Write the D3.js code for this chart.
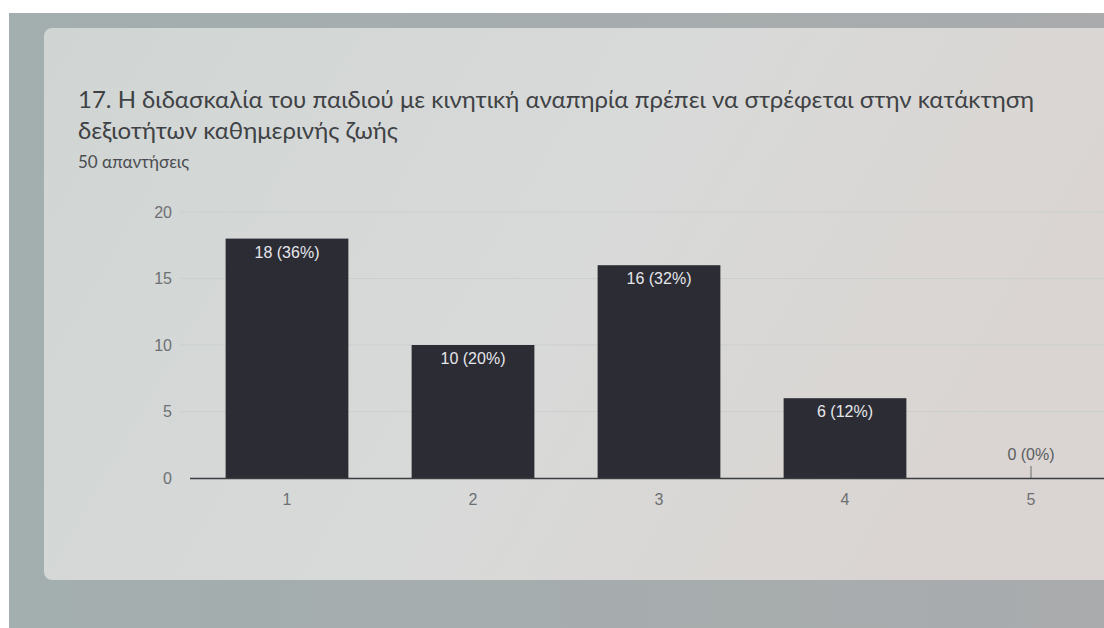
<!DOCTYPE html>
<html>
<head>
<meta charset="utf-8">
<script src="https://cdn.jsdelivr.net/npm/d3@7"></script>
<style>
  html, body { margin: 0; padding: 0; background: #ffffff; }
  svg { display: block; }
</style>
</head>
<body>
<script>
// Responses per scale point
const categories = ["1", "2", "3", "4", "5"];
const counts = [18, 10, 16, 6, 0];
const percents = ["36%", "20%", "32%", "12%", "0%"];
const yTicks = [0, 5, 10, 15, 20];

const titleLines = [
  "17. Η διδασκαλία του παιδιού με κινητική αναπηρία πρέπει να στρέφεται στην κατάκτηση",
  "δεξιοτήτων καθημερινής ζωής"
];
const subtitle = "50 απαντήσεις";

const W = 1104, H = 628;
const svg = d3.select("body").append("svg").attr("width", W).attr("height", H);
const defs = svg.append("defs");

const frameGrad = defs.append("linearGradient").attr("id", "frame").attr("x1", 0).attr("x2", 1).attr("y1", 0).attr("y2", 0);
frameGrad.append("stop").attr("offset", "0%").attr("stop-color", "#a3aeae");
frameGrad.append("stop").attr("offset", "100%").attr("stop-color", "#a9abad");

const cardGrad = defs.append("linearGradient").attr("id", "card").attr("x1", 0).attr("x2", 1).attr("y1", 0).attr("y2", 0.3);
cardGrad.append("stop").attr("offset", "0%").attr("stop-color", "#d0d5d4");
cardGrad.append("stop").attr("offset", "55%").attr("stop-color", "#d8dad9");
cardGrad.append("stop").attr("offset", "100%").attr("stop-color", "#dad5d2");

// screen frame and card
svg.append("rect").attr("x", 9).attr("y", 13).attr("width", W - 9).attr("height", H - 13).attr("fill", "url(#frame)");
svg.append("rect").attr("x", 44).attr("y", 28).attr("width", W - 44 + 10).attr("height", 552)
  .attr("rx", 8).attr("fill", "url(#card)");

// title
const title = svg.append("text")
  .attr("font-family", "Lato, 'Noto Sans', sans-serif").attr("font-size", 24)
  .attr("fill", "#3f4245");
titleLines.forEach((t, i) => {
  title.append("tspan").attr("x", 78).attr("y", 108 + i * 31).text(t);
});
svg.append("text").attr("x", 78).attr("y", 168)
  .attr("font-family", "Lato, 'Noto Sans', sans-serif").attr("font-size", 17)
  .attr("fill", "#4a4d50").text(subtitle);

// scales
const x = d3.scaleBand().domain(categories).range([194, 1124]).paddingInner(0.34).paddingOuter(0.17);
const y = d3.scaleLinear().domain([0, 20]).range([478, 212]);

// gridlines
svg.append("g").selectAll("line").data(yTicks.filter(d => d > 0)).join("line")
  .attr("x1", 180).attr("x2", W).attr("y1", d => y(d)).attr("y2", d => y(d))
  .attr("stroke", "#cbcfcf").attr("stroke-width", 1);

// y axis labels
const yAxis = svg.append("g").attr("transform", "translate(172,0)")
  .call(d3.axisLeft(y).tickValues(yTicks).tickSize(0).tickPadding(0));
yAxis.select(".domain").remove();
yAxis.selectAll("text").attr("font-family", "'Liberation Sans', Arial, sans-serif")
  .attr("font-size", 16).attr("fill", "#6d7073");

// bars
svg.append("g").selectAll("rect").data(counts).join("rect")
  .attr("x", (d, i) => x(categories[i]))
  .attr("y", d => y(d))
  .attr("width", x.bandwidth())
  .attr("height", d => y(0) - y(d))
  .attr("fill", "#2c2c35");

// value labels
svg.append("g").selectAll("text").data(counts).join("text")
  .attr("x", (d, i) => x(categories[i]) + x.bandwidth() / 2)
  .attr("y", d => d > 0 ? y(d) + 19 : y(d) - 18)
  .attr("text-anchor", "middle")
  .attr("font-family", "'Liberation Sans', Arial, sans-serif")
  .attr("font-size", 16)
  .attr("fill", d => d > 0 ? "#e6e7ea" : "#5a5d60")
  .text((d, i) => `${d} (${percents[i]})`);

// stub for the empty category
svg.append("g").selectAll("line").data(counts.map((d, i) => ({ d, i })).filter(o => o.d === 0)).join("line")
  .attr("x1", o => x(categories[o.i]) + x.bandwidth() / 2)
  .attr("x2", o => x(categories[o.i]) + x.bandwidth() / 2)
  .attr("y1", o => y(o.d) - 12).attr("y2", o => y(o.d))
  .attr("stroke", "#6a6d70").attr("stroke-width", 1);

// x axis
const xAxis = svg.append("g").attr("transform", `translate(0,${y(0)})`)
  .call(d3.axisBottom(x).tickSize(0).tickPadding(16));
xAxis.select(".domain").attr("d", `M190,0.5H${W}`).attr("stroke", "#3a3c40").attr("stroke-width", 1.5);
xAxis.selectAll("text").attr("font-family", "'Liberation Sans', Arial, sans-serif")
  .attr("font-size", 16).attr("fill", "#6d7073");
</script>
</body>
</html>
